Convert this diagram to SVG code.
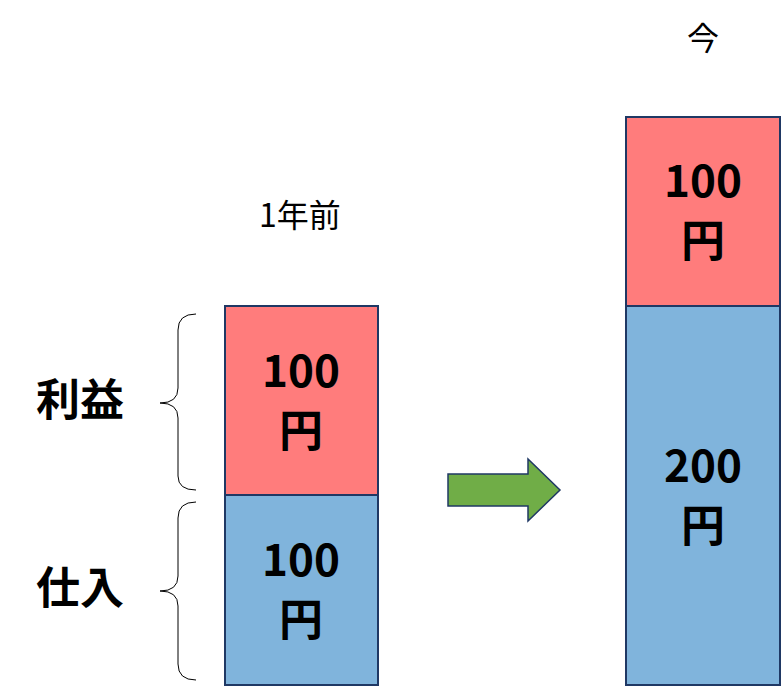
<svg xmlns="http://www.w3.org/2000/svg" width="781" height="686" viewBox="0 0 781 686">
<style>
.r{fill:#ff7c7c;stroke:#1f3864;stroke-width:2}
.b{fill:#80b4dc;stroke:#1f3864;stroke-width:2}
.v{font-family:"Noto Sans CJK JP","Noto Sans",sans-serif;font-weight:bold;font-size:44px;text-anchor:middle;fill:#000}
.t{font-family:"Noto Sans CJK JP","Noto Sans",sans-serif;font-size:32px;text-anchor:middle;fill:#000}
.br{fill:none;stroke:#000;stroke-width:1}
</style>
<rect width="781" height="686" fill="#fff"/>
<g id="left-profit"><rect class="r" x="225" y="306" width="153" height="189"/><text class="v" x="301" y="387">100</text><text class="v" x="301" y="447">円</text></g>
<g id="left-cost"><rect class="b" x="225" y="495" width="153" height="190"/><text class="v" x="301" y="576">100</text><text class="v" x="301" y="636">円</text></g>
<g id="right-profit"><rect class="r" x="626" y="117" width="154" height="189"/><text class="v" x="703" y="197">100</text><text class="v" x="703" y="257">円</text></g>
<g id="right-cost"><rect class="b" x="626" y="306" width="154" height="379"/><text class="v" x="703" y="482">200</text><text class="v" x="703" y="542">円</text></g>
<g id="labels">
<text class="t" x="300" y="227">1年前</text>
<text class="t" x="703" y="50">今</text>
<text class="v" x="80" y="416">利益</text>
<text class="v" x="80" y="604">仕入</text>
</g>
<g id="connectors">
<path class="br" d="M196,314 Q178,314 178,330 L178,388 Q178,403 160,403 Q178,403 178,418 L178,476 Q178,490 196,490"/>
<path class="br" d="M196,502 Q178,502 178,518 L178,576 Q178,591 160,591 Q178,591 178,606 L178,664 Q178,680 196,680"/>
<path d="M448,474 L528,474 L528,459 L560,490 L528,521 L528,506 L448,506 Z" fill="#70ad47" stroke="#1f3864" stroke-width="1.5"/>
</g>
</svg>
